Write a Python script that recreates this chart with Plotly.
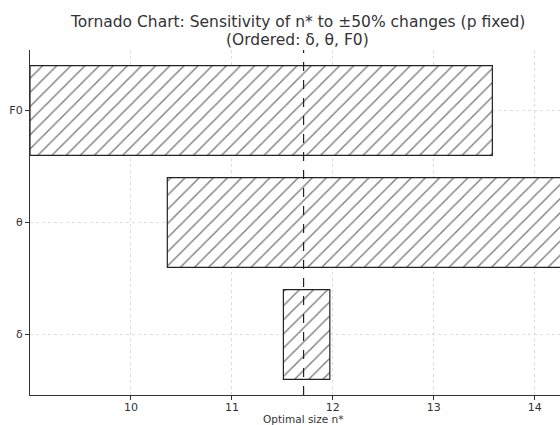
import plotly.graph_objects as go

categories = ["δ", "θ", "F0"]
low_values = [11.51, 10.36, 9.0]
high_values = [11.97, 14.9, 13.58]
baseline_n = 11.71
x_ticks = [10, 11, 12, 13, 14]

fig = go.Figure()
fig.add_trace(go.Bar(
    y=categories,
    base=low_values,
    x=[h - l for h, l in zip(high_values, low_values)],
    orientation="h",
    width=0.8,
    marker=dict(
        color="white",
        line=dict(color="#222", width=1.2),
        pattern=dict(shape="/", fgcolor="#000", bgcolor="white", size=10, solidity=0.14),
    ),
    showlegend=False,
))

fig.add_shape(type="line", xref="x", yref="paper", x0=baseline_n, x1=baseline_n, y0=0, y1=1,
              line=dict(color="#222", width=1.2, dash="dash"))

font = "DejaVu Sans, sans-serif"
plot_l, plot_t, plot_b = 30, 50, 395
plot_h = plot_b - plot_t
title_x = (297 - plot_l) / (560 - plot_l)


def ypix(p):
    return (plot_b - p) / plot_h


fig.update_layout(
    width=560, height=425,
    margin=dict(l=plot_l, r=0, t=plot_t, b=425 - plot_b),
    plot_bgcolor="white", paper_bgcolor="white",
    font=dict(family=font, size=10, color="#333"),
    annotations=[
        dict(text="Tornado Chart: Sensitivity of n* to ±50% changes (p fixed)",
             xref="paper", yref="paper", x=title_x, y=ypix(22), yanchor="middle",
             showarrow=False, font=dict(family=font, size=15.5, color="#333")),
        dict(text="(Ordered: δ, θ, F0)",
             xref="paper", yref="paper", x=title_x, y=ypix(40), yanchor="middle",
             showarrow=False, font=dict(family=font, size=15.5, color="#333")),
        dict(text="Optimal size n*", xref="x", yref="paper", x=11.7, y=ypix(411),
             yanchor="top", showarrow=False, font=dict(family=font, size=10.5, color="#333")),
    ],
)
fig.update_xaxes(
    range=[9.0, 14.25], tickvals=x_ticks, ticks="outside", ticklen=4, tickcolor="#333",
    showgrid=True, gridcolor="#ddd", griddash="dot", gridwidth=1,
    showline=True, linecolor="#333", linewidth=1.2, zeroline=False, automargin=False,
    tickfont=dict(size=11, color="#333"), ticklabelstandoff=-2,
)
fig.update_yaxes(
    range=[-0.54, 2.54], ticks="outside", ticklen=4, tickcolor="#333",
    showgrid=True, gridcolor="#ddd", griddash="dot", gridwidth=1,
    showline=True, linecolor="#333", linewidth=1.2, zeroline=False, automargin=False,
    tickfont=dict(size=11, color="#333"), ticklabelstandoff=0,
)

fig.write_html("out.html", config={"displayModeBar": False},
               post_script="document.body.style.margin='0';document.body.style.overflow='hidden';")
